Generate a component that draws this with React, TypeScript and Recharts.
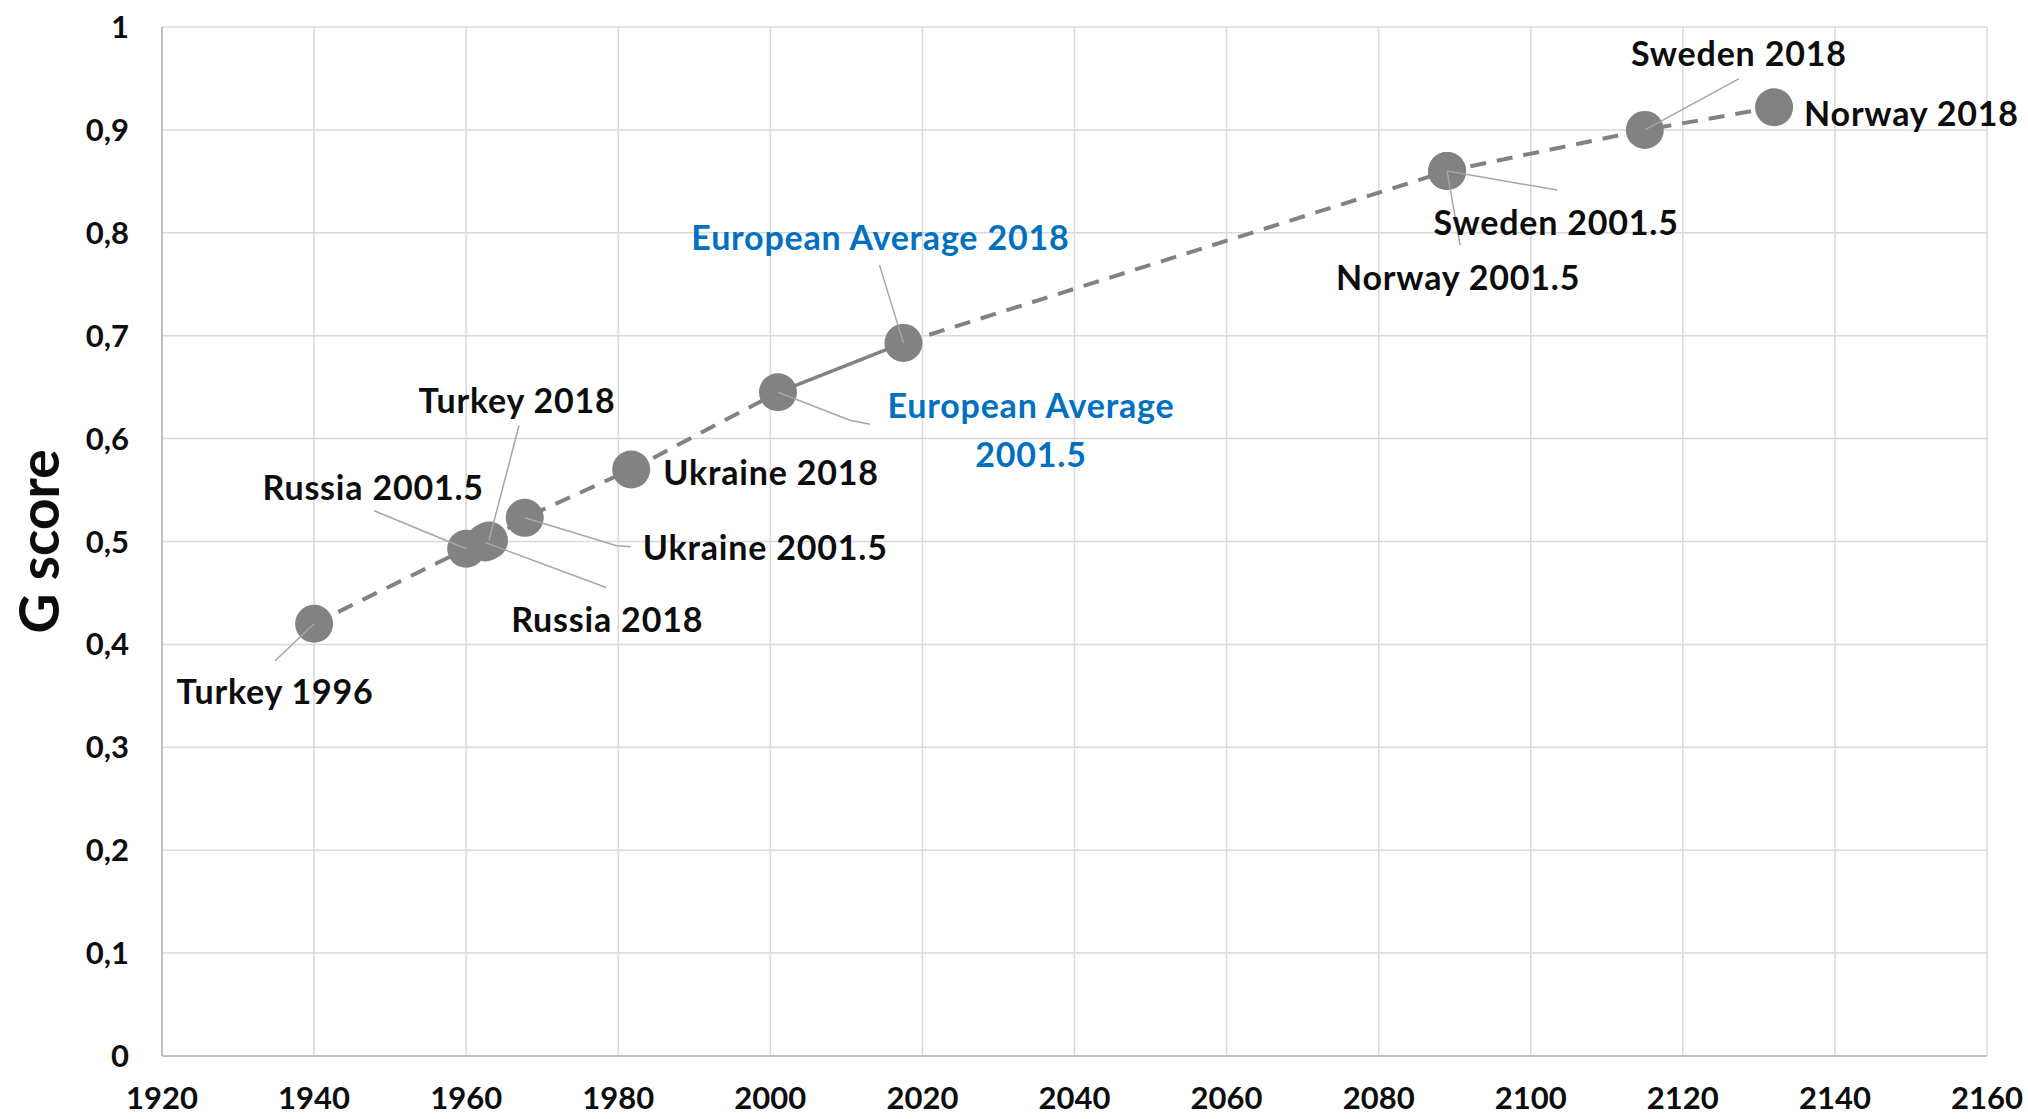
import { ScatterChart, Scatter, XAxis, YAxis, CartesianGrid } from 'recharts';

// points
const NAMES = [
    'Turkey 1996',
    'Russia 2001.5',
    'Russia 2018',
    'Turkey 2018',
    'Ukraine 2001.5',
    'Ukraine 2018',
    'European Average 2001.5',
    'European Average 2018',
    'Norway 2001.5',
    'Sweden 2001.5',
    'Sweden 2018',
    'Norway 2018',
];
const X_VALUES = [1940, 1960, 1962.5, 1963, 1967.7, 1981.7, 2001, 2017.5, 2089, 2089, 2115, 2132];
const G_SCORES = [0.42, 0.493, 0.499, 0.501, 0.523, 0.57, 0.645, 0.693, 0.86, 0.86, 0.9, 0.922];

const LOWER_PATH = ['Turkey 1996', 'Russia 2001.5', 'Russia 2018', 'Turkey 2018', 'Ukraine 2001.5', 'Ukraine 2018', 'European Average 2001.5'];
const EURO_PATH = ['European Average 2001.5', 'European Average 2018'];
const UPPER_PATH = ['European Average 2018', 'Norway 2001.5', 'Sweden 2001.5', 'Sweden 2018', 'Norway 2018'];

const X_TICKS = [1920, 1940, 1960, 1980, 2000, 2020, 2040, 2060, 2080, 2100, 2120, 2140, 2160];
const Y_TICKS = [0, 0.1, 0.2, 0.3, 0.4, 0.5, 0.6, 0.7, 0.8, 0.9, 1];

// label placement relative to the point (pixels)
type LabelLayout = {
    lines: string[];
    dx: number;
    dy: number;
    anchor: 'start' | 'middle' | 'end';
    leader?: [number, number][];
    color?: string;
};

const BLUE = '#0070C0';

const LABELS: Record<string, LabelLayout> = {
    'Turkey 1996': { lines: ['Turkey 1996'], dx: -39, dy: 67, anchor: 'middle', leader: [[-39, 37]] },
    'Russia 2001.5': { lines: ['Russia 2001.5'], dx: -93, dy: -62, anchor: 'middle', leader: [[-92, -38]] },
    'Russia 2018': { lines: ['Russia 2018'], dx: 122, dy: 76, anchor: 'middle', leader: [[121, 45]] },
    'Turkey 2018': { lines: ['Turkey 2018'], dx: 28, dy: -141, anchor: 'middle', leader: [[30, -115]] },
    'Ukraine 2001.5': { lines: ['Ukraine 2001.5'], dx: 118, dy: 29, anchor: 'start', leader: [[92, 28], [106, 29]] },
    'Ukraine 2018': { lines: ['Ukraine 2018'], dx: 32, dy: 2, anchor: 'start' },
    'European Average 2001.5': {
        lines: ['European Average', '2001.5'],
        dx: 253,
        dy: 12,
        anchor: 'middle',
        leader: [[72, 28], [92, 32]],
        color: BLUE,
    },
    'European Average 2018': { lines: ['European Average 2018'], dx: -23, dy: -106, anchor: 'middle', leader: [[-24, -78]], color: BLUE },
    'Norway 2001.5': { lines: ['Norway 2001.5'], dx: 11, dy: 105, anchor: 'middle', leader: [[13, 74]] },
    'Sweden 2001.5': { lines: ['Sweden 2001.5'], dx: 109, dy: 50, anchor: 'middle', leader: [[110, 19]] },
    'Sweden 2018': { lines: ['Sweden 2018'], dx: 94, dy: -77, anchor: 'middle', leader: [[94, -51]] },
    'Norway 2018': { lines: ['Norway 2018'], dx: 30, dy: 5, anchor: 'start' },
};

const FONT = 'Lato, "Open Sans", sans-serif';
const GRAY = '#828282';

const points = NAMES.map((name, i) => ({ name, x: X_VALUES[i], y: G_SCORES[i] }));
const pathData = (names: string[]) => names.map(n => points.find(p => p.name === n)!);

const noShape = () => <g />;

const Dot = (props: any) => <circle cx={props.cx} cy={props.cy} r={19} fill={GRAY} />;

const PointLabel = (props: any) => {
    const { cx, cy, payload } = props;
    const layout = LABELS[payload.name];
    if (!layout) return <g />;
    const leaderPts = layout.leader ? [[0, 0], ...layout.leader].map(([a, b]) => `${cx + a},${cy + b}`).join(' ') : null;
    return (
        <g>
            {leaderPts && <polyline points={leaderPts} fill="none" stroke="#a6a6a6" strokeWidth={1.5} />}
            {layout.lines.map((line, i) => (
                <text
                    key={i}
                    x={cx + layout.dx}
                    y={cy + layout.dy + i * 49}
                    textAnchor={layout.anchor}
                    dominantBaseline="central"
                    fontFamily={FONT}
                    fontWeight={700}
                    fontSize={34}
                    letterSpacing={0.8}
                    fill={layout.color || '#0d0d0d'}
                >
                    {line}
                </text>
            ))}
        </g>
    );
};

const GScoreLabel = (props: any) => {
    const vb = props.viewBox || {};
    const y = (vb.y || 0) + (vb.height || 0) / 2;
    return (
        <text x={38} y={y} transform={`rotate(-90, 38, ${y})`} textAnchor="middle" dominantBaseline="central"
            fontFamily={FONT} fontWeight={700} fontSize={55} fill="#0d0d0d">
            G score
        </text>
    );
};

const tickStyle = { fill: '#0d0d0d', fontSize: 31, fontWeight: 700, fontFamily: FONT };

export default function App() {
    return (
        <div style={{ position: 'absolute', left: 0, top: 0, background: '#fff' }}>
            <ScatterChart width={2028} height={1119} margin={{ top: 27, right: 41, bottom: 0, left: 0 }}>
                <CartesianGrid stroke="#d9d9d9" strokeWidth={1.5} />
                <XAxis
                    type="number"
                    dataKey="x"
                    domain={[1920, 2160]}
                    ticks={X_TICKS}
                    height={63}
                    tickLine={false}
                    tickSize={0}
                    tickMargin={31}
                    axisLine={{ stroke: '#bfbfbf', strokeWidth: 2 }}
                    tick={tickStyle}
                    interval={0}
                />
                <YAxis
                    type="number"
                    dataKey="y"
                    domain={[0, 1]}
                    ticks={Y_TICKS}
                    width={162}
                    tickLine={false}
                    tickSize={0}
                    tickMargin={33}
                    axisLine={{ stroke: '#bfbfbf', strokeWidth: 2 }}
                    tick={tickStyle}
                    interval={0}
                    tickFormatter={(v: number) => String(v).replace('.', ',')}
                    label={{ content: GScoreLabel }}
                />
                <Scatter data={pathData(LOWER_PATH)} shape={noShape} line={{ stroke: GRAY, strokeWidth: 4, strokeDasharray: '16 11' }} isAnimationActive={false} />
                <Scatter data={pathData(EURO_PATH)} shape={noShape} line={{ stroke: GRAY, strokeWidth: 3.5 }} isAnimationActive={false} />
                <Scatter data={pathData(UPPER_PATH)} shape={noShape} line={{ stroke: GRAY, strokeWidth: 4, strokeDasharray: '16 11' }} isAnimationActive={false} />
                <Scatter data={points} shape={Dot} isAnimationActive={false} />
                <Scatter data={points} shape={PointLabel} isAnimationActive={false} />
            </ScatterChart>
        </div>
    );
}
